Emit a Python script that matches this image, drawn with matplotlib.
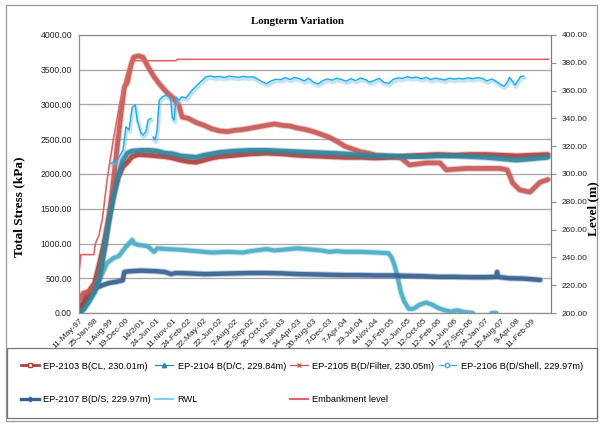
import numpy as np
import matplotlib
matplotlib.use("Agg")
import matplotlib.pyplot as plt
import matplotlib.patheffects as pe
from matplotlib.lines import Line2D
from matplotlib.patches import Rectangle

# ---- category axis labels (one label every tick interval) ----
date_labels = ["11-May-97", "25-Jan-98", "1-Aug-99", "19-Dec-00", "14/2/01", "24-Jun-01",
               "11-Nov-01", "24-Feb-02", "22-May-02", "22-Jun-02", "2-Aug-02", "25-Sep-02",
               "26-Oct-02", "8-Jan-03", "24-Apr-03", "20-Aug-03", "7-Dec-03", "7-Apr-04",
               "23-Jul-04", "4-Nov-04", "13-Feb-05", "12-Jun-05", "12-Oct-05", "12-Feb-06",
               "11-Jun-06", "27-Sep-06", "24-Jan-07", "15-Aug-07", "9-Apr-08", "11-Feb-09"]

# ---- total stress readings (kPa), position measured in label intervals ----
ep2103_pos = [0, 0.3, 0.6, 1.0, 1.3, 1.6, 1.9, 2.2, 2.5, 2.8, 3.1, 3.4, 3.8, 4.5, 5, 5.5, 6, 6.5,
              7, 7.5, 8, 8.5, 9, 10, 11, 12, 13, 14, 15, 16, 17, 18, 19, 20, 21, 22, 23, 24,
              25, 26, 27, 28, 29, 30]
ep2103_kpa = [60, 150, 300, 430, 700, 1000, 1350, 1700, 1950, 2100, 2170, 2250, 2280, 2270,
              2260, 2250, 2230, 2200, 2180, 2170, 2200, 2230, 2250, 2270, 2290, 2300, 2290,
              2270, 2260, 2250, 2240, 2240, 2230, 2240, 2260, 2270, 2280, 2270, 2280, 2280,
              2270, 2260, 2270, 2280]

ep2104_pos = [0, 0.3, 0.6, 1.0, 1.3, 1.6, 1.9, 2.2, 2.5, 2.8, 3.1, 3.4, 4, 4.5, 5, 5.5, 6, 6.5,
              7, 7.5, 8, 9, 10, 11, 12, 13, 14, 15, 16, 17, 18, 19, 20, 21, 22, 23, 24, 25,
              26, 27, 28, 29, 30]
ep2104_kpa = [0, 50, 150, 300, 500, 900, 1300, 1650, 1950, 2200, 2300, 2330, 2340, 2340, 2330,
              2300, 2290, 2260, 2250, 2240, 2270, 2310, 2330, 2340, 2340, 2330, 2320, 2310,
              2300, 2290, 2270, 2260, 2260, 2250, 2250, 2260, 2260, 2250, 2240, 2220, 2200,
              2220, 2240]

ep2105_pos = [0, 0.3, 0.6, 0.95, 1.25, 1.45, 1.7, 1.9, 2.1, 2.4, 2.7, 2.9, 3.1, 3.3, 3.5, 3.8,
              4.1, 4.4, 4.8, 5.2, 5.6, 6.0, 6.4, 6.6, 7.0, 7.5, 8.0, 8.5, 9.0, 9.5, 10, 10.5,
              11, 11.5, 12, 12.5, 13, 13.5, 14, 14.5, 15, 15.5, 16, 16.5, 17, 17.5, 18, 18.5,
              19, 19.5, 20, 20.6, 21.15, 22.2, 23.1, 23.5, 24.8, 26.9, 27.4, 27.75, 28.2,
              28.85, 29.5, 30]
ep2105_kpa = [180, 290, 300, 360, 480, 700, 1000, 1350, 1700, 2300, 2900, 3250, 3320, 3550,
              3680, 3700, 3680, 3550, 3400, 3280, 3180, 3100, 2980, 2820, 2800, 2740, 2700,
              2650, 2620, 2610, 2630, 2640, 2660, 2680, 2700, 2720, 2700, 2690, 2660, 2640,
              2610, 2570, 2530, 2470, 2400, 2360, 2320, 2300, 2270, 2260, 2250, 2230, 2130,
              2160, 2160, 2060, 2080, 2080, 2060, 1870, 1770, 1740, 1880, 1920]

ep2106_pos = [0, 0.45, 1.1, 1.5, 1.8, 2.2, 2.55, 3.0, 3.4, 3.55, 3.8, 4.4, 4.8, 5.0, 5.6, 6.5,
              7.5, 8.5, 9.5, 10.5, 11, 12, 12.5, 13, 14, 15, 15.5, 16, 16.5, 17, 18, 19, 19.8,
              20.0, 20.2, 20.4, 20.6, 20.8, 21.1, 21.4, 21.8, 22.2, 22.6, 23.0, 23.4, 23.8,
              24.2, 24.6, 25.0, 25.2, 25.8, 26.4, 26.7]
ep2106_kpa = [0, 230, 370, 575, 720, 790, 820, 950, 1050, 1000, 980, 960, 880, 930, 920, 910,
              890, 870, 880, 870, 890, 920, 900, 910, 930, 910, 900, 880, 890, 880, 880, 870,
              860, 800, 680, 500, 300, 170, 60, 60, 120, 150, 120, 70, 40, 20, 40, 15, 5, 0,
              np.nan, 0, 0]

ep2107_pos = [0, 0.2, 0.6, 1.1, 1.5, 1.9, 2.4, 2.8, 2.9, 3.2, 4.0, 5.0, 5.5, 5.9, 6.2, 7, 8, 9,
              10, 11, 12, 13, 14, 15, 16, 17, 18, 19, 20, 21, 22, 23, 24, 25, 26, 26.7, 26.75,
              26.8, 27.5, 28.5, 29.5]
ep2107_kpa = [0, 90, 230, 360, 400, 430, 450, 470, 590, 600, 610, 600, 590, 560, 575, 570, 560,
              565, 570, 575, 575, 570, 560, 555, 550, 545, 545, 540, 540, 535, 530, 520, 520,
              515, 515, 520, 590, 520, 500, 495, 475]

# ---- levels (m) ----
rwl_pos = [2.03, 2.24, 2.4, 2.56, 2.82, 3.0, 3.2, 3.4, 3.6, 3.72, 3.96, 4.1, 4.28, 4.42, 4.6,
           4.67, 4.74, 4.87, 5.0, 5.13, 5.32, 5.56, 5.77, 5.88, 5.96, 6.09, 6.2, 6.4, 6.58,
           6.84, 7.24, 7.7, 8.12, 8.4, 8.7, 9.0, 9.3, 9.6, 9.9, 10.2, 10.5, 10.8, 11.1, 11.4,
           11.7, 12.0, 12.3, 12.6, 12.9, 13.2, 13.5, 13.8, 14.1, 14.4, 14.7, 15.0, 15.3, 15.6,
           15.9, 16.2, 16.5, 16.8, 17.1, 17.4, 17.7, 18.0, 18.3, 18.6, 18.9, 19.2, 19.5, 19.8,
           20.1, 20.4, 20.7, 21.0, 21.3, 21.6, 21.9, 22.2, 22.5, 22.8, 23.1, 23.4, 23.7, 24.0,
           24.3, 24.6, 24.9, 25.2, 25.5, 25.8, 26.1, 26.4, 26.7, 27.0, 27.2, 27.4, 27.55,
           27.75, 27.9, 28.1, 28.25, 28.45]
rwl_m = [307.7, 308.6, 309.5, 312.2, 317.3, 334.0, 331.7, 348.0, 349.6, 338.8, 329.5, 328.0,
         330.4, 338.8, 340.0, np.nan, 326.6, 324.5, 331.7, 353.0, 355.4, 356.8, 355.4, 353.0,
         341.0, 338.8, 355.4, 353.0, 355.6, 354.7, 360.4, 365.5, 370.0, 370.5, 369.8, 370.2,
         369.5, 370.4, 370.0, 369.6, 370.3, 369.7, 370.1, 368.5, 366.5, 365.0, 367.0, 368.2,
         367.8, 369.4, 368.0, 369.5, 368.6, 367.0, 368.9, 366.0, 364.8, 367.2, 368.4, 367.5,
         369.0, 368.0, 366.8, 368.6, 367.2, 369.0, 368.2, 366.0, 367.4, 368.8, 366.0, 365.2,
         368.0, 369.2, 368.8, 370.0, 369.2, 369.8, 368.5, 369.5, 368.0, 369.0, 368.3, 367.6,
         369.0, 368.2, 368.8, 368.4, 369.2, 368.6, 369.4, 368.8, 367.0, 368.4, 366.6, 364.2,
         363.2, 366.0, 369.5, 366.5, 364.0, 367.5, 370.0, 370.5]

emb_pos = [0, 0.12, 0.95, 1.05, 1.28, 1.5, 1.8, 2.2, 2.6, 3.0, 3.35, 6.2, 6.3, 30.05]
emb_m = [229, 242, 242, 250, 256, 268, 296, 325, 350, 370, 381.5, 381.5, 382.5, 382.5]

# ---- styling ----
C2103 = "#B0413E"
C2104 = "#31859C"
C2105 = "#C65955"
C2106 = "#4BACC6"
C2107 = "#376092"
CRWL = "#1AACEE"
CEMB = "#E06666"

plt.rcParams["font.family"] = ["Liberation Sans", "DejaVu Sans"]

fig = plt.figure(figsize=(6.02, 4.25), dpi=100)
fig.patch.set_facecolor("white")

# outer chart border
fig.patches.append(Rectangle((6 / 602, 4 / 425), 591 / 602, 416 / 425,
                             transform=fig.transFigure, fill=False,
                             edgecolor="#9a9a9a", lw=0.9))

ax = fig.add_axes([79 / 602, 1 - 313 / 425, 472 / 602, 278 / 425])
ax2 = ax.twinx()

ax.set_xlim(0, 30.2)
ax.set_ylim(0, 4000)
ax2.set_ylim(200, 400)

ax.set_yticks(np.arange(0, 4001, 500))
ax.set_yticklabels([f"{v:.2f}" for v in np.arange(0, 4001, 500)])
ax2.set_yticks(np.arange(200, 401, 20))
ax2.set_yticklabels([f"{v:.2f}" for v in np.arange(200, 401, 20)])
ax.set_xticks(np.arange(len(date_labels)))
ax.set_xticklabels(date_labels, rotation=45, ha="right", rotation_mode="anchor")

ax.grid(axis="y", color="#a6a6a6", lw=0.9)
ax.set_axisbelow(True)
ax.tick_params(axis="y", length=0, pad=5, labelsize=6.2, colors="#222222")
ax.tick_params(axis="x", length=0, pad=3, labelsize=6.0, colors="#222222")
ax2.tick_params(axis="y", length=3.5, width=0.8, color="#8c8c8c", pad=4,
                labelsize=6.0, labelcolor="#222222")
for sp in ["left", "bottom", "right", "top"]:
    ax.spines[sp].set_color("#8c8c8c")
    ax2.spines[sp].set_color("#8c8c8c")
ax.spines["left"].set_color("#6e6e6e")
ax2.spines["right"].set_color("#7a7a7a")


def band(a, x, y, color, lw=3.6):
    a.plot(x, y, color=color, lw=lw + 1.4, alpha=0.3, solid_capstyle="round", zorder=3)
    a.plot(x, y, color=color, lw=lw, alpha=0.9, solid_capstyle="round", zorder=3)


band(ax, ep2106_pos, ep2106_kpa, C2106, lw=3.0)
band(ax, ep2107_pos, ep2107_kpa, C2107, lw=3.2)
band(ax, ep2103_pos, ep2103_kpa, C2103, lw=3.4)
band(ax, ep2105_pos, ep2105_kpa, C2105, lw=3.4)
band(ax, ep2104_pos, ep2104_kpa, C2104, lw=3.4)

ax2.plot(rwl_pos, rwl_m, color=CRWL, lw=1.0, zorder=4,
         path_effects=[pe.SimpleLineShadow(offset=(0.6, -1.6), shadow_color="#7cc2ef",
                                           alpha=0.45, linewidth=2.6), pe.Normal()])
ax2.plot(emb_pos, emb_m, color=CEMB, lw=1.2, zorder=4)

fig.text(297 / 602, 1 - 22 / 425, "Longterm Variation", ha="center", va="center",
         family="Liberation Serif", weight="bold", fontsize=7.8)
fig.text(19 / 602, 1 - 207 / 425, "Total Stress (kPa)", rotation=90, ha="center", va="center",
         family="Liberation Serif", weight="bold", fontsize=9.5)
fig.text(593 / 602, 1 - 209 / 425, "Level (m)", rotation=90, ha="center", va="center",
         family="Liberation Serif", weight="bold", fontsize=9.5)

handles = [
    Line2D([], [], color=C2103, lw=2.0, marker="s", ms=3.2, mfc="white", mec=C2103),
    Line2D([], [], color=C2107, lw=2.4, marker="D", ms=2.3, mfc=C2107, mec=C2107),
    Line2D([], [], color=C2104, lw=0.9, marker="^", ms=3.2, mfc=C2104, mec=C2104),
    Line2D([], [], color="#7fd0f5", lw=1.5),
    Line2D([], [], color=C2105, lw=0.9, marker="x", ms=3.2, mew=0.9),
    Line2D([], [], color=CEMB, lw=1.5),
    Line2D([], [], color=C2106, lw=0.9, marker="o", ms=3.0, mfc="white", mec=C2106),
]
labels = ["EP-2103 B(CL, 230.01m)", "EP-2107 B(D/S, 229.97m)",
          "EP-2104 B(D/C, 229.84m)", "RWL",
          "EP-2105 B(D/Filter, 230.05m)", "Embankment level",
          "EP-2106 B(D/Shell, 229.97m)"]
leg = fig.legend(handles, labels, ncol=4, loc="upper left",
                 bbox_to_anchor=(7 / 602, 1 - 352 / 425, 590 / 602, 0.01), mode="expand",
                 fontsize=6.7, frameon=True, fancybox=False, edgecolor="#555555",
                 handlelength=1.9, handletextpad=0.5, borderaxespad=0, labelspacing=2.6,
                 columnspacing=0.8, borderpad=1.5)
leg.get_frame().set_linewidth(0.9)

fig.savefig("out.png", dpi=100, facecolor="white")
